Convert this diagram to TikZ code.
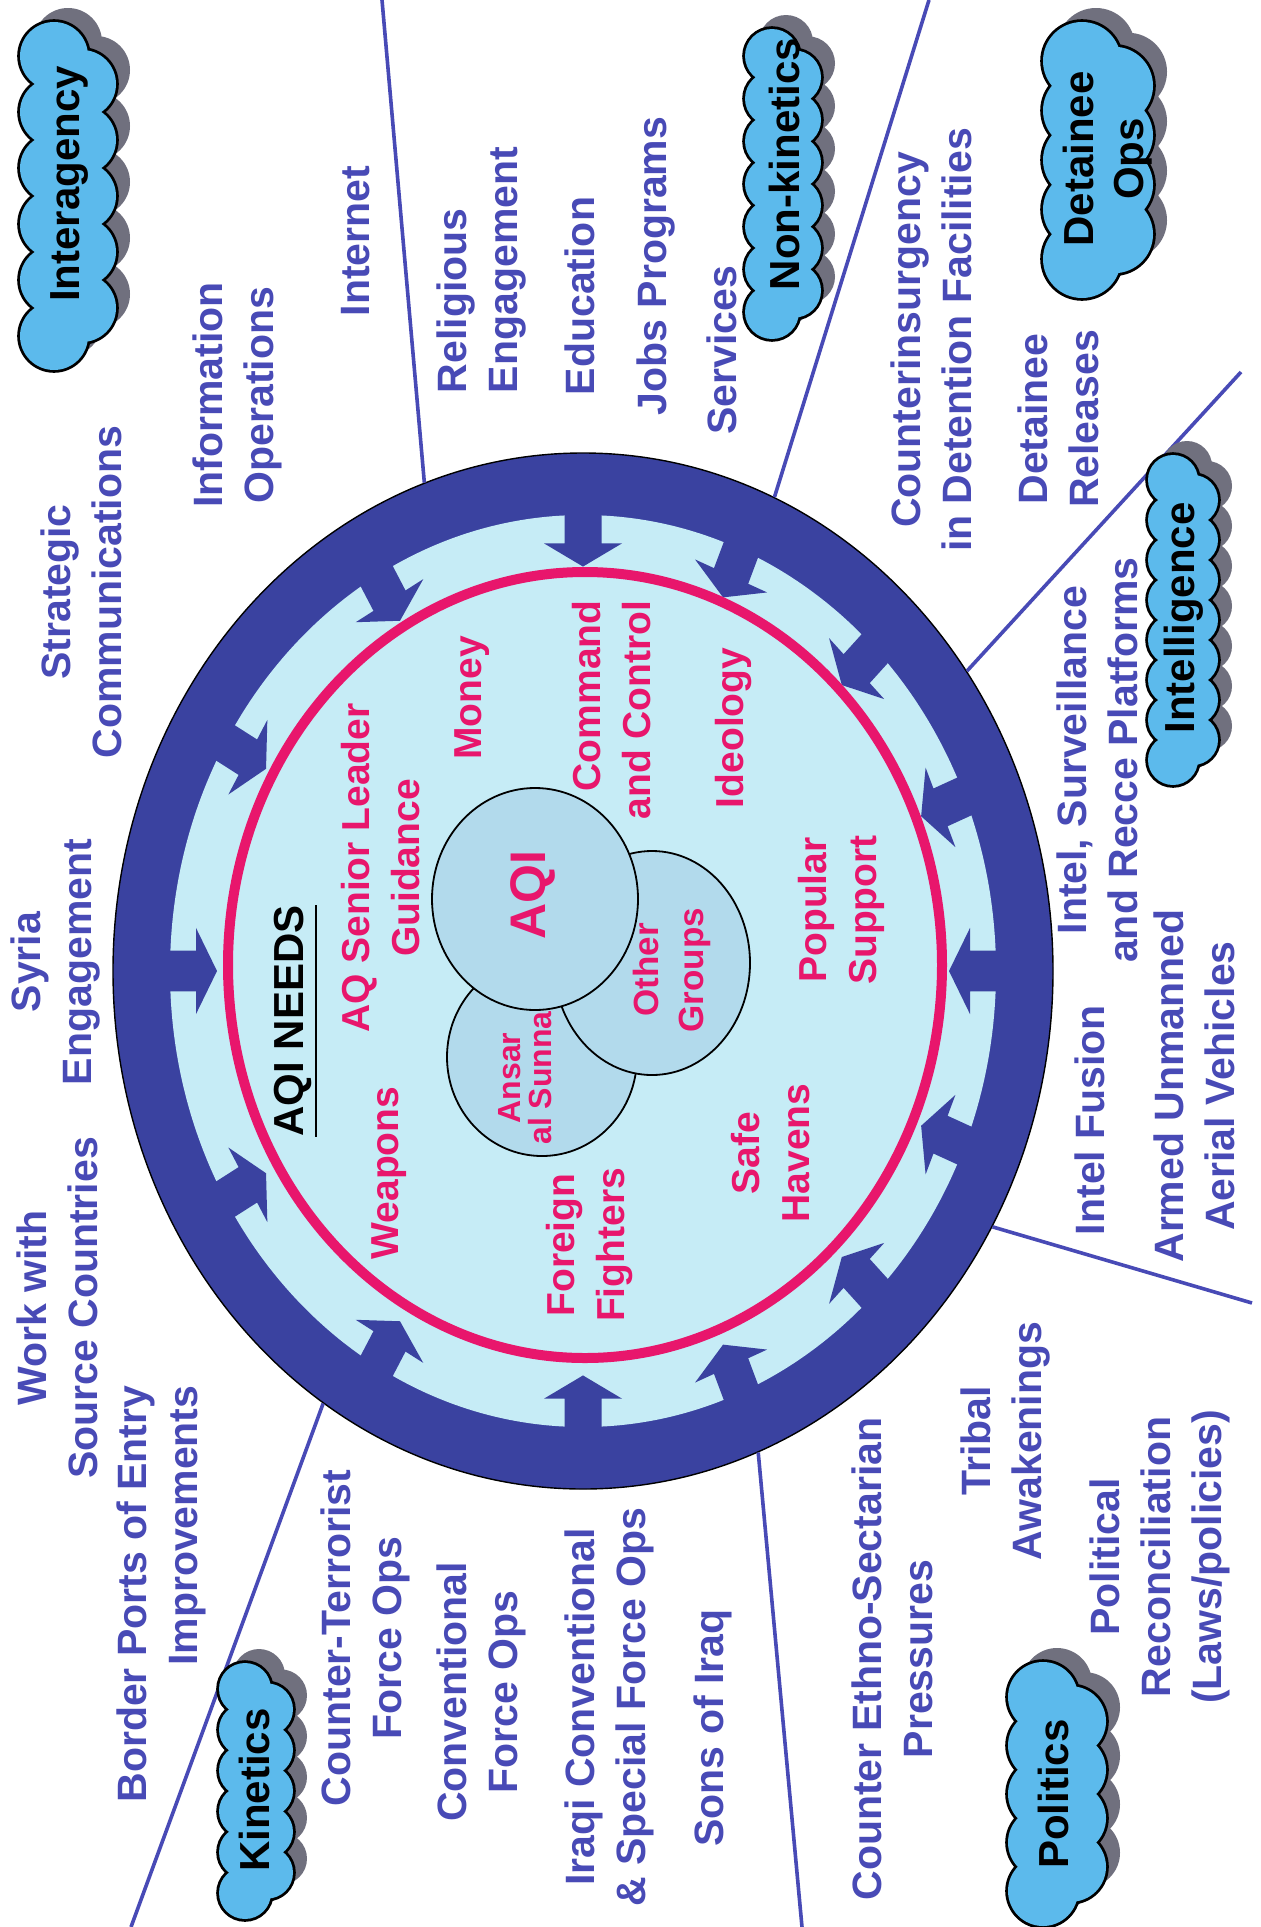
\documentclass[tikz,border=0pt]{standalone}
\usepackage{fontspec}
\setmainfont{Liberation Sans}
\usetikzlibrary{shapes.geometric, positioning}

\definecolor{ringblue}{RGB}{58,66,160}
\definecolor{textblue}{RGB}{72,74,182}
\definecolor{lightfill}{RGB}{198,236,246}
\definecolor{needpink}{RGB}{232,22,108}
\definecolor{groupfill}{RGB}{178,218,236}
\definecolor{cloudblue}{RGB}{92,186,236}
\definecolor{cloudgray}{RGB}{112,112,126}

\begin{document}
\begin{tikzpicture}[x=0.5pt, y=-0.5pt,
    outtext/.style={rotate=90, align=center, inner sep=0pt, text=textblue,
        font=\bfseries\fontsize{20.5}{25.5}\selectfont},
    needtext/.style={rotate=90, align=center, inner sep=0pt, text=needpink,
        font=\bfseries\fontsize{19.5}{25}\selectfont},
    cloudtext/.style={rotate=90, align=center, inner sep=0pt, text=black,
        font=\bfseries\fontsize{21}{25}\selectfont},
    divider/.style={draw=textblue, line width=1.8pt},
    groupdisc/.style={draw=black, line width=0.9pt, fill=groupfill},
    % cloud: #1 puff radius, #2 puffs on the left, #3 half span, #4 column offset
    puffpath/.style n args={4}{insert path={
        \foreach \k in {1,...,#2} {({-#4},{-#3+(\k-1)*2*#3/(#2-1)}) circle (#1)}
        \foreach \k in {2,...,#2} {({#4},{-#3+(\k-1.5)*2*#3/(#2-1)}) circle (#1)}}},
    pics/puffcloud/.style n args={4}{code={
        \fill[cloudgray, shift={(14,-14)}] [puffpath={#1}{#2}{#3}{#4}];
        \draw[black, line width=2.8pt] [puffpath={#1}{#2}{#3}{#4}];
        \fill[cloudblue] [puffpath={#1}{#2}{#3}{#4}];
    }}
    ]

    \useasboundingbox (0,0) rectangle (1261,1927);
    \fill[white] (0,0) rectangle (1261,1927);

    % Outer ring and the inner field
    \node[ellipse, draw=black, line width=0.7pt, fill=ringblue, inner sep=0pt,
        minimum width=470pt, minimum height=518pt] (outer) at (583,971) {};
    \fill[lightfill] (583,971) ellipse (413 and 456);

    % Arrows pressing in on AQI
    \begin{scope}[shift={(583,971)}, yscale=1.105]
        \foreach \a in {90,67.5,45,22.5,0,-22.5,-45,-67.5,-90,-120,-150,180,150,120}
            \fill[ringblue, rotate=\a] (425,-18.5) -- (387,-18.5) -- (387,-39) -- (366,0)
                -- (387,39) -- (387,18.5) -- (425,18.5) -- cycle;
    \end{scope}

    \draw[needpink, line width=5pt] (585,965) ellipse (357 and 393);

    % Sector dividers
    \coordinate (d1) at (382,0);
    \coordinate (d2) at (929,0);
    \coordinate (d3) at (1241,372);
    \coordinate (d4) at (1252,1303);
    \coordinate (d5) at (802,1927);
    \coordinate (d6) at (131,1927);
    \draw[divider] (outer.108) -- (d1);
    \draw[divider] (outer.68) -- (d2);
    \draw[divider] (outer.38) -- (d3);
    \draw[divider] (outer.-32.6) -- (d4);
    \draw[divider] (outer.-70.5) -- (d5);
    \draw[divider] (outer.-121.5) -- (d6);

    % AQI and the other groups
    \draw[groupdisc] (542,1057) ellipse (95 and 99);
    \draw[groupdisc] (652,963) ellipse (98 and 112);
    \draw[groupdisc] (535,899) ellipse (103 and 111);
    \node[needtext, font=\bfseries\fontsize{25}{30}\selectfont] (aqi) at (533,895) {AQI};
    \node[needtext, font=\bfseries\fontsize{16}{15.5}\selectfont] (ansar) at (525,1078) {Ansar\\al Sunna};
    \node[needtext, font=\bfseries\fontsize{17.5}{22.5}\selectfont] (others) at (672,970) {Other\\Groups};

    % AQI needs
    \node[rotate=90, inner sep=0pt, font=\bfseries\fontsize{21}{25}\selectfont] (needs) at (293,1021) {AQI NEEDS};
    \draw[line width=1.3pt] ([xshift=2pt]needs.south west) -- ([xshift=2pt]needs.south east);
    \node[needtext] (aqsl) at (381,868) {AQ Senior Leader\\Guidance};
    \node[needtext] (weapons) at (389,1173) {Weapons};
    \node[needtext] (money) at (472,698) {Money};
    \node[needtext, align=right] (c2) at (612,710) {Command\\and Control};
    \node[needtext] (ideology) at (733,728) {Ideology};
    \node[needtext] (popular) at (841,910) {Popular\\Support};
    \node[needtext] (safe) at (771,1153) {Safe\\Havens};
    \node[needtext] (foreign) at (589,1245) {Foreign\\Fighters};

    % Interagency
    \node[outtext] (strat) at (81,592) {Strategic\\Communications};
    \node[outtext] (info) at (237,395) {Information\\Operations};
    \node[outtext] (internet) at (356,241) {Internet};
    \node[outtext] (syria) at (55,962) {Syria\\Engagement};
    \node[outtext] (work) at (57,1308) {Work with\\Source Countries};
    \node[outtext, align=right] (border) at (161,1594) {Border Ports of Entry\\Improvements};

    % Non-kinetics
    \node[outtext, align=left] (relig) at (481,270) {Religious\\Engagement};
    \node[outtext] (educ) at (580,296) {Education};
    \node[outtext] (jobs) at (656,266) {Jobs Programs};
    \node[outtext] (serv) at (722,350) {Services};

    % Detainee ops
    \node[outtext] (coin) at (931,340) {Counterinsurgency\\in Detention Facilities};
    \node[outtext] (release) at (1058,419) {Detainee\\Releases};

    % Intelligence
    \node[outtext] (isr) at (1097,760) {Intel, Surveillance\\and Recce Platforms};
    \node[outtext] (fusion) at (1090,1120) {Intel Fusion};
    \node[outtext] (uav) at (1194,1086) {Armed Unmanned\\Aerial Vehicles};

    % Politics
    \node[outtext] (ethno) at (892,1659) {Counter Ethno-Sectarian\\Pressures};
    \node[outtext] (tribal) at (1005,1441) {Tribal\\Awakenings};
    \node[outtext] (polrec) at (1160,1557) {Political\\Reconciliation\\(Laws/policies)};

    % Kinetics
    \node[outtext] (ctf) at (365,1638) {Counter-Terrorist\\Force Ops};
    \node[outtext] (conv) at (481,1692) {Conventional\\Force Ops};
    \node[outtext] (iraqi) at (609,1707) {Iraqi Conventional\\\& Special Force Ops};
    \node[outtext] (sons) at (713,1728) {Sons of Iraq};

    % Clouds
    \pic (interagency-cloud) at (68,196) {puffcloud={34}{6}{140}{14}};
    \node[cloudtext] (interagency) at (70,184) {Interagency};
    \pic (nonkin-cloud) at (783,184) {puffcloud={27}{7}{128}{11}};
    \node[cloudtext] (nonkin) at (784,164) {Non-kinetics};
    \pic (detainee-cloud) at (1098,160) {puffcloud={39}{5}{99}{16}};
    \node[cloudtext] (detainee) at (1108,159) {Detainee\\Ops};
    \pic (intel-cloud) at (1183,620) {puffcloud={25}{8}{140}{10}};
    \node[cloudtext] (intel) at (1184,618) {Intelligence};
    \pic (kinetics-cloud) at (256,1791) {puffcloud={26}{6}{102}{11}};
    \node[cloudtext] (kinetics) at (254,1790) {Kinetics};
    \pic (politics-cloud) at (1057,1794) {puffcloud={35}{5}{97}{14}};
    \node[cloudtext] (politics) at (1053,1794) {Politics};

\end{tikzpicture}
\end{document}
